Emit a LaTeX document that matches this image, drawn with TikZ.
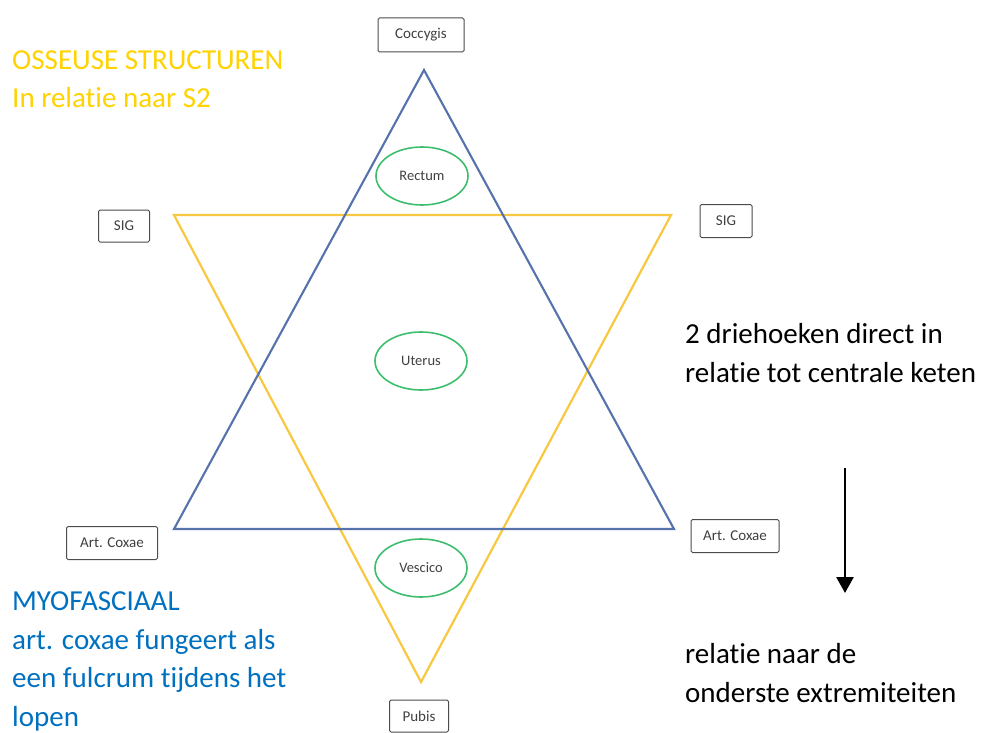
\documentclass[tikz,border=0pt]{standalone}
\usepackage{fontspec}
\setmainfont{Carlito}[Ligatures={NoCommon}]
\usepackage{tikz}
\usetikzlibrary{shapes.geometric}
\usetikzlibrary{arrows.meta}
\usetikzlibrary{calc}
\definecolor{boneY}{HTML}{F7C840}
\definecolor{myoB}{HTML}{5572AC}
\definecolor{organG}{HTML}{3DBE6E}
\definecolor{txtY}{HTML}{FFD200}
\definecolor{txtB}{HTML}{0070C0}

\begin{document}
\begin{tikzpicture}[x=1pt, y=-1pt,
		bonebox/.style={draw=black!70, line width=1pt, rounded corners=1.5pt, fill=white, font=\fontsize{15}{17}\selectfont\color{black!75}, inner sep=0pt},
		organ/.style={ellipse, draw=organG, line width=1.6pt, minimum width=92pt, minimum height=58pt, font=\fontsize{14.5}{17}\selectfont\color{black!75}},
		note/.style={font=\fontsize{29}{38.5}\selectfont, align=left, anchor=base west, inner sep=0pt}
		]
		\useasboundingbox (0,0) rectangle (982,733);
		
		% triangle corners
		\coordinate (bTop) at (424,70);
		\coordinate (bLeft) at (174,529);
		\coordinate (bRight) at (674,529);
		\coordinate (yLeft) at (174,215);
		\coordinate (yRight) at (671,215);
		\coordinate (yBot) at (421,682);
		
		% the two triangles
		\draw[boneY, line width=2.2pt, line join=miter] (yLeft) -- (yRight) -- (yBot) -- cycle;
		\draw[myoB, line width=2.1pt, line join=miter] (bTop) -- (bRight) -- (bLeft) -- cycle;
		
		% bony landmarks
		\node[bonebox, minimum width=86pt, minimum height=34pt] (cocc) at (421,35) {Coccygis};
		\node[bonebox, minimum width=51pt, minimum height=32pt] (sigL) at (124,226) {SIG};
		\node[bonebox, minimum width=52pt, minimum height=33pt] (sigR) at (726,221) {SIG};
		\node[bonebox, minimum width=91pt, minimum height=33pt] (coxL) at (112,543) {Art. Coxae};
		\node[bonebox, minimum width=88pt, minimum height=33pt] (coxR) at (735,536) {Art. Coxae};
		\node[bonebox, minimum width=59pt, minimum height=32pt] (pub) at (419,716) {Pubis};
		
		% organs
		\node[organ] (rect) at (422,176) {Rectum};
		\node[organ] (uter) at (421,361) {Uterus};
		\node[organ] (vesc) at (421,568) {Vescico};
		
		% texts (base = last line)
		\node[note, text=txtY] (osse) at (12,108) {OSSEUSE STRUCTUREN\\In relatie naar S2};
		\node[note, text=txtB] (myof) at (12,726) {MYOFASCIAAL\\art. coxae fungeert als\\een fulcrum tijdens het\\lopen};
		\node[note] (cent) at (685,382) {2 driehoeken direct in\\relatie tot centrale keten};
		\node[note] (extr) at (685,702) {relatie naar de\\onderste extremiteiten};
		
		% arrow down
		\coordinate (arA) at (845,468);
		\coordinate (arB) at (845,593);
		\draw[line width=2.6pt, -{Triangle[length=16pt, width=17pt]}] (arA) -- (arB);
		
	\end{tikzpicture}
\end{document}
